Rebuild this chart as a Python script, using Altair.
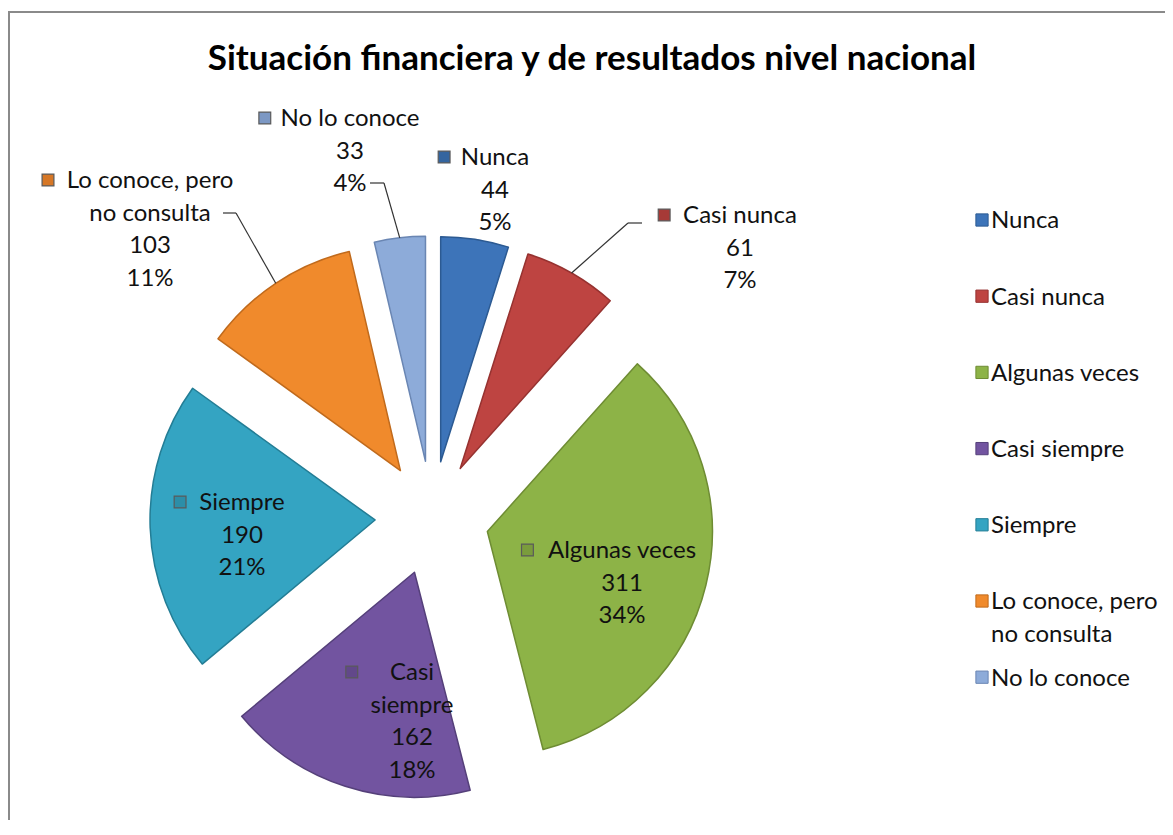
import math
import altair as alt
import pandas as pd

# ---------------- data ----------------
categories = ["Nunca", "Casi nunca", "Algunas veces", "Casi siempre", "Siempre",
              "Lo conoce, pero no consulta", "No lo conoce"]
counts = [44, 61, 311, 162, 190, 103, 33]
label_names = ["Nunca", "Casi nunca", "Algunas veces", "Casi\nsiempre", "Siempre",
               "Lo conoce, pero\nno consulta", "No lo conoce"]
legend_names = ["Nunca", "Casi nunca", "Algunas veces", "Casi siempre", "Siempre",
                "Lo conoce, pero\nno consulta", "No lo conoce"]
title_text = "Situación financiera y de resultados nivel nacional"

# ---------------- style / layout ----------------
colors = ["#3D74B9", "#BE4441", "#8DB347", "#7254A0", "#34A4C2", "#F08A2C", "#8DABD9"]
edges = ["#2C5A92", "#963230", "#6E8C33", "#55407A", "#237D95", "#C06A1C", "#6A86B3"]
icon_fill = ["#34659F", "#A63A37", "#7A9C3C", "#62488A", "#2C8EA8", "#D67726", "#7C98C4"]
FONT = "Lato"
W, H = 1157, 812
CX, CY = 424, 510          # pie centre (view px)
R = 225                    # pie radius
EXPLODE = 57               # slice explosion distance
FS = 24                    # label font size
LH = 32.5                  # label line height
TOTAL = sum(counts)

# label anchor offsets from pie centre (text centre x, first line centre y)
label_offset = {
    "Nunca": (63, -361),
    "Casi nunca": (308, -303),
    "Algunas veces": (190, 32),
    "Casi siempre": (-20, 154),
    "Siempre": (-190, -16),
    "Lo conoce, pero no consulta": (-282, -338),
    "No lo conoce": (-82, -400),
}
# leader lines: elbow offset (dx, dy) and tail end dx, relative to pie centre
leaders = {
    "Casi nunca": (196, -295, 210),
    "Lo conoce, pero no consulta": (-196, -305, -209),
    "No lo conoce": (-48, -335, -62),
}


def text_width(s, fs):
    w = 0.0
    for ch in s:
        if ch in "il,.' |":
            w += 0.26
        elif ch in "rtfj":
            w += 0.36
        elif ch in "mwMW":
            w += 0.82
        elif ch == " ":
            w += 0.25
        elif ch.isupper():
            w += 0.66
        else:
            w += 0.52
    return w * fs


df = pd.DataFrame({
    "cat": categories,
    "count": counts,
    "idx": list(range(len(categories))),
    "lbl": label_names,
    "leg": legend_names,
    "ldx": [label_offset[c][0] for c in categories],
    "ldy": [label_offset[c][1] for c in categories],
    "namew": [max(text_width(p, FS) for p in n.split("\n")) for n in label_names],
    "has_leader": [c in leaders for c in categories],
    "edx": [leaders.get(c, (0, 0, 0))[0] for c in categories],
    "edy": [leaders.get(c, (0, 0, 0))[1] for c in categories],
    "tdx": [leaders.get(c, (0, 0, 0))[2] for c in categories],
})

color_scale = alt.Scale(domain=categories, range=colors)
edge_scale = alt.Scale(domain=categories, range=edges)
icon_scale = alt.Scale(domain=categories, range=icon_fill)

base = (
    alt.Chart(df)
    .transform_joinaggregate(total="sum(count)")
    .transform_window(cum="sum(count)", sort=[alt.SortField("idx")], frame=[None, 0])
    .transform_calculate(start="datum.cum - datum.count")
    .transform_calculate(mid="(datum.cum - datum.count / 2) / datum.total * 2 * PI")
    .transform_calculate(cx=f"{CX} + {EXPLODE} * sin(datum.mid)")
    .transform_calculate(cy=f"{CY} - {EXPLODE} * cos(datum.mid)")
)

arcs = base.mark_arc(radius=R, strokeWidth=1.5, strokeJoin="round").encode(
    theta=alt.Theta("start:Q", scale=alt.Scale(domain=[0, TOTAL], range=[0, 2 * math.pi]), stack=None),
    theta2="cum:Q",
    x=alt.X("cx:Q", scale=None, axis=None),
    y=alt.Y("cy:Q", scale=None, axis=None),
    color=alt.Color("cat:N", scale=color_scale, legend=None),
    stroke=alt.Stroke("cat:N", scale=edge_scale, legend=None),
)

labels = (
    base.transform_calculate(
        txt="datum.lbl + '\\n' + datum.count + '\\n' + format(datum.count / datum.total, '.0%')"
    )
    .transform_calculate(lx=f"{CX} + datum.ldx")
    .transform_calculate(ly=f"{CY} + datum.ldy - {0.44 * FS}")
    .mark_text(font=FONT, fontSize=FS, lineBreak="\n", lineHeight=LH,
               align="center", baseline="top", color="#111111")
    .encode(x=alt.X("lx:Q", scale=None), y=alt.Y("ly:Q", scale=None), text="txt:N")
)

label_icons = (
    base.transform_calculate(ix=f"{CX} + datum.ldx - datum.namew / 2 - 18")
    .transform_calculate(iy=f"{CY} + datum.ldy")
    .mark_square(size=140, opacity=1, strokeWidth=1.2)
    .encode(
        x=alt.X("ix:Q", scale=None),
        y=alt.Y("iy:Q", scale=None),
        fill=alt.Fill("cat:N", scale=icon_scale, legend=None),
        stroke=alt.value("#5a5a5a"),
    )
)

lead = (
    base.transform_filter("datum.has_leader")
    .transform_calculate(ex=f"{CX} + {EXPLODE + R} * sin(datum.mid)")
    .transform_calculate(ey=f"{CY} - {EXPLODE + R} * cos(datum.mid)")
    .transform_calculate(bx=f"{CX} + datum.edx")
    .transform_calculate(by=f"{CY} + datum.edy")
    .transform_calculate(tx=f"{CX} + datum.tdx")
)
lead_diag = lead.mark_rule(color="#333333", strokeWidth=1.2).encode(
    x=alt.X("ex:Q", scale=None), y=alt.Y("ey:Q", scale=None),
    x2="bx:Q", y2="by:Q",
)
lead_tail = lead.mark_rule(color="#333333", strokeWidth=1.2).encode(
    x=alt.X("bx:Q", scale=None), y=alt.Y("by:Q", scale=None),
    x2="tx:Q", y2="by:Q",
)

# manual legend on the right
LEG_X = 974
LEG_Y0 = 212
LEG_STEP = 76.2
leg_base = base.transform_calculate(ly=f"{LEG_Y0} + datum.idx * {LEG_STEP}")
leg_icons = leg_base.mark_square(size=150, opacity=1, strokeWidth=1).encode(
    x=alt.value(LEG_X),
    y=alt.Y("ly:Q", scale=None),
    color=alt.Color("cat:N", scale=color_scale, legend=None),
    stroke=alt.Stroke("cat:N", scale=edge_scale, legend=None),
)
leg_text = (
    leg_base.transform_calculate(lty=f"datum.ly - {0.44 * FS}")
    .mark_text(font=FONT, fontSize=FS, lineBreak="\n", lineHeight=LH,
               align="left", baseline="top", color="#111111")
    .encode(x=alt.value(LEG_X + 9), y=alt.Y("lty:Q", scale=None), text="leg:N")
)

title = alt.Chart(pd.DataFrame({"t": [title_text]})).mark_text(
    font=FONT, fontSize=35, fontWeight="bold", align="center", baseline="middle", color="#000000"
).encode(x=alt.value(584), y=alt.value(51), text="t:N")

frame_top = alt.Chart(pd.DataFrame({"a": [0]})).mark_rule(color="#8a8a8a", strokeWidth=2).encode(
    x=alt.value(0), x2=alt.value(W), y=alt.value(4), y2=alt.value(4))
frame_left = alt.Chart(pd.DataFrame({"a": [0]})).mark_rule(color="#8a8a8a", strokeWidth=2).encode(
    x=alt.value(1), x2=alt.value(1), y=alt.value(4), y2=alt.value(H))

chart = alt.layer(
    frame_top, frame_left, arcs, lead_diag, lead_tail, labels, label_icons,
    leg_icons, leg_text, title
).properties(
    width=W, height=H, autosize=alt.AutoSizeParams(type="none"), padding=0,
    background="white"
).configure_view(stroke=None)

chart.save("out.html", embed_options={"renderer": "svg", "actions": False})
